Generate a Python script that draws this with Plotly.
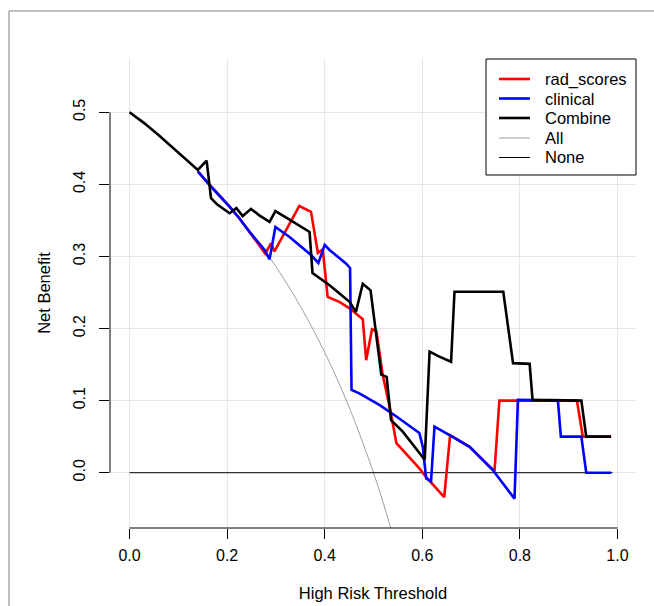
import plotly.graph_objects as go

# ---- data ----
thr_rad = [0.14, 0.167, 0.205, 0.225, 0.246, 0.278, 0.29, 0.297, 0.348, 0.372, 0.386, 0.396,
           0.406, 0.43, 0.451, 0.478, 0.485, 0.497, 0.506, 0.519, 0.533, 0.547, 0.594, 0.608,
           0.645, 0.657, 0.697, 0.744, 0.748, 0.758, 0.917, 0.929, 0.987]
nb_rad = [0.418, 0.397, 0.369, 0.353, 0.334, 0.304, 0.318, 0.307, 0.370, 0.362, 0.305, 0.310,
          0.244, 0.237, 0.228, 0.213, 0.156, 0.199, 0.196, 0.135, 0.092, 0.041, 0.006, -0.006,
          -0.034, 0.052, 0.036, 0.004, 0.002, 0.100, 0.100, 0.050, 0.050]

thr_clin = [0.14, 0.167, 0.205, 0.225, 0.246, 0.277, 0.287, 0.299, 0.328, 0.372, 0.387, 0.40,
            0.41, 0.444, 0.452, 0.455, 0.471, 0.512, 0.547, 0.594, 0.601, 0.608, 0.618, 0.625,
            0.656, 0.697, 0.744, 0.789, 0.796, 0.878, 0.884, 0.926, 0.936, 0.987]
nb_clin = [0.418, 0.397, 0.369, 0.353, 0.334, 0.309, 0.296, 0.341, 0.327, 0.302, 0.291, 0.316,
           0.309, 0.290, 0.284, 0.115, 0.110, 0.094, 0.078, 0.055, 0.036, -0.008, -0.012, 0.064,
           0.052, 0.036, 0.004, -0.036, 0.101, 0.100, 0.050, 0.050, 0.000, 0.000]

thr_comb = [0.0, 0.03, 0.06, 0.09, 0.12, 0.14, 0.158, 0.167, 0.18, 0.205, 0.219, 0.232, 0.249,
            0.266, 0.287, 0.299, 0.328, 0.369, 0.375, 0.389, 0.41, 0.451, 0.464, 0.478, 0.494,
            0.516, 0.527, 0.536, 0.56, 0.605, 0.615, 0.635, 0.659, 0.666, 0.766, 0.786, 0.82,
            0.826, 0.926, 0.936, 0.987]
nb_comb = [0.500, 0.485, 0.468, 0.450, 0.432, 0.420, 0.433, 0.381, 0.372, 0.360, 0.367, 0.356,
           0.366, 0.357, 0.348, 0.363, 0.351, 0.334, 0.277, 0.270, 0.260, 0.237, 0.223, 0.262,
           0.253, 0.136, 0.133, 0.073, 0.057, 0.018, 0.168, 0.161, 0.154, 0.251, 0.251, 0.152,
           0.151, 0.101, 0.100, 0.050, 0.050]

thr_all = [0.0, 0.05, 0.1, 0.15, 0.2, 0.25, 0.3, 0.35, 0.4, 0.45, 0.5, 0.525, 0.55]
nb_all = [0.500, 0.474, 0.444, 0.412, 0.375, 0.333, 0.286, 0.231, 0.167, 0.091, 0.000, -0.053, -0.111]

thr_none = [0.0, 0.99]
nb_none = [0.0, 0.0]

x_ticks = [0.0, 0.2, 0.4, 0.6, 0.8, 1.0]
x_tick_text = ["0.0", "0.2", "0.4", "0.6", "0.8", "1.0"]
y_ticks = [0.0, 0.1, 0.2, 0.3, 0.4, 0.5]
y_tick_text = ["0.0", "0.1", "0.2", "0.3", "0.4", "0.5"]

legend_names = ["rad_scores", "clinical", "Combine", "All", "None"]
legend_colors = ["#ff0000", "#0000ff", "#000000", "#a0a0a0", "#000000"]
legend_widths = [2.6, 2.6, 2.6, 1, 1]

FONT = "Liberation Sans, Arial, sans-serif"

fig = go.Figure()
fig.add_trace(go.Scatter(x=thr_all, y=nb_all, mode="lines", name="All",
                         line=dict(color="#a0a0a0", width=1, shape="spline")))
fig.add_trace(go.Scatter(x=thr_none, y=nb_none, mode="lines", name="None",
                         line=dict(color="#000000", width=1)))
fig.add_trace(go.Scatter(x=thr_rad, y=nb_rad, mode="lines", name="rad_scores",
                         line=dict(color="#ff0000", width=2.6)))
fig.add_trace(go.Scatter(x=thr_clin, y=nb_clin, mode="lines", name="clinical",
                         line=dict(color="#0000ff", width=2.6)))
fig.add_trace(go.Scatter(x=thr_comb, y=nb_comb, mode="lines", name="Combine",
                         line=dict(color="#000000", width=2.6)))

# plot area in pixels: left 110, right 636, top 58, bottom 528
L, R, T, B = 110, 636, 58, 528
def px(xp):
    return (xp - L) / (R - L)
def py(yp):
    return (B - yp) / (B - T)

shapes = [
    dict(type="line", xref="x", yref="paper", x0=0, x1=1, y0=0, y1=0,
         line=dict(color="#000000", width=1)),
    dict(type="line", xref="paper", yref="y", x0=0, x1=0, y0=0, y1=0.5,
         line=dict(color="#000000", width=1)),
    dict(type="line", xref="paper", yref="paper", x0=px(9), x1=px(660), y0=py(11), y1=py(11),
         line=dict(color="#aaaaaa", width=1.5)),
    dict(type="line", xref="paper", yref="paper", x0=px(9), x1=px(9), y0=py(11), y1=py(620),
         line=dict(color="#aaaaaa", width=1.5)),
    # legend box
    dict(type="rect", xref="paper", yref="paper", x0=px(486), x1=px(636), y0=py(175), y1=py(59),
         line=dict(color="#000000", width=1), fillcolor="white", layer="above"),
]
annotations = []
leg_y = [79, 98.5, 118, 138, 157.5]
for name, col, w, yy in zip(legend_names, legend_colors, legend_widths, leg_y):
    shapes.append(dict(type="line", xref="paper", yref="paper", x0=px(499), x1=px(530),
                       y0=py(yy), y1=py(yy), line=dict(color=col, width=w), layer="above"))
    annotations.append(dict(xref="paper", yref="paper", x=px(543), y=py(yy), text=name,
                            showarrow=False, xanchor="left", yanchor="middle",
                            font=dict(size=16.5, family=FONT, color="#000000")))

fig.update_layout(
    width=654, height=606,
    margin=dict(l=L, r=654 - R, t=T, b=606 - B, autoexpand=False),
    paper_bgcolor="white", plot_bgcolor="white",
    font=dict(family=FONT, size=16, color="#000000"),
    showlegend=False,
    xaxis=dict(range=[-0.04, 1.038], tickvals=x_ticks, ticktext=x_tick_text,
               showgrid=True, gridcolor="#e6e6e6", gridwidth=1, zeroline=False,
               showline=False, ticks="outside", ticklen=10, tickcolor="#000000",
               tickfont=dict(size=16), ticklabelstandoff=3, automargin=False,
               title=dict(text="High Risk Threshold", font=dict(size=16.5), standoff=24)),
    yaxis=dict(range=[-0.0767, 0.5753], tickvals=y_ticks, ticktext=y_tick_text,
               showgrid=True, gridcolor="#e6e6e6", gridwidth=1, zeroline=False,
               showline=False, ticks="outside", ticklen=10, tickcolor="#000000",
               tickangle=-90, tickfont=dict(size=16), ticklabelstandoff=8, automargin=False,
               title=dict(text="Net Benefit", font=dict(size=16.5), standoff=15)),
    shapes=shapes,
    annotations=annotations,
)

fig.write_html("out.html", config={"displayModeBar": False},
               post_script="document.body.style.margin='0';")
